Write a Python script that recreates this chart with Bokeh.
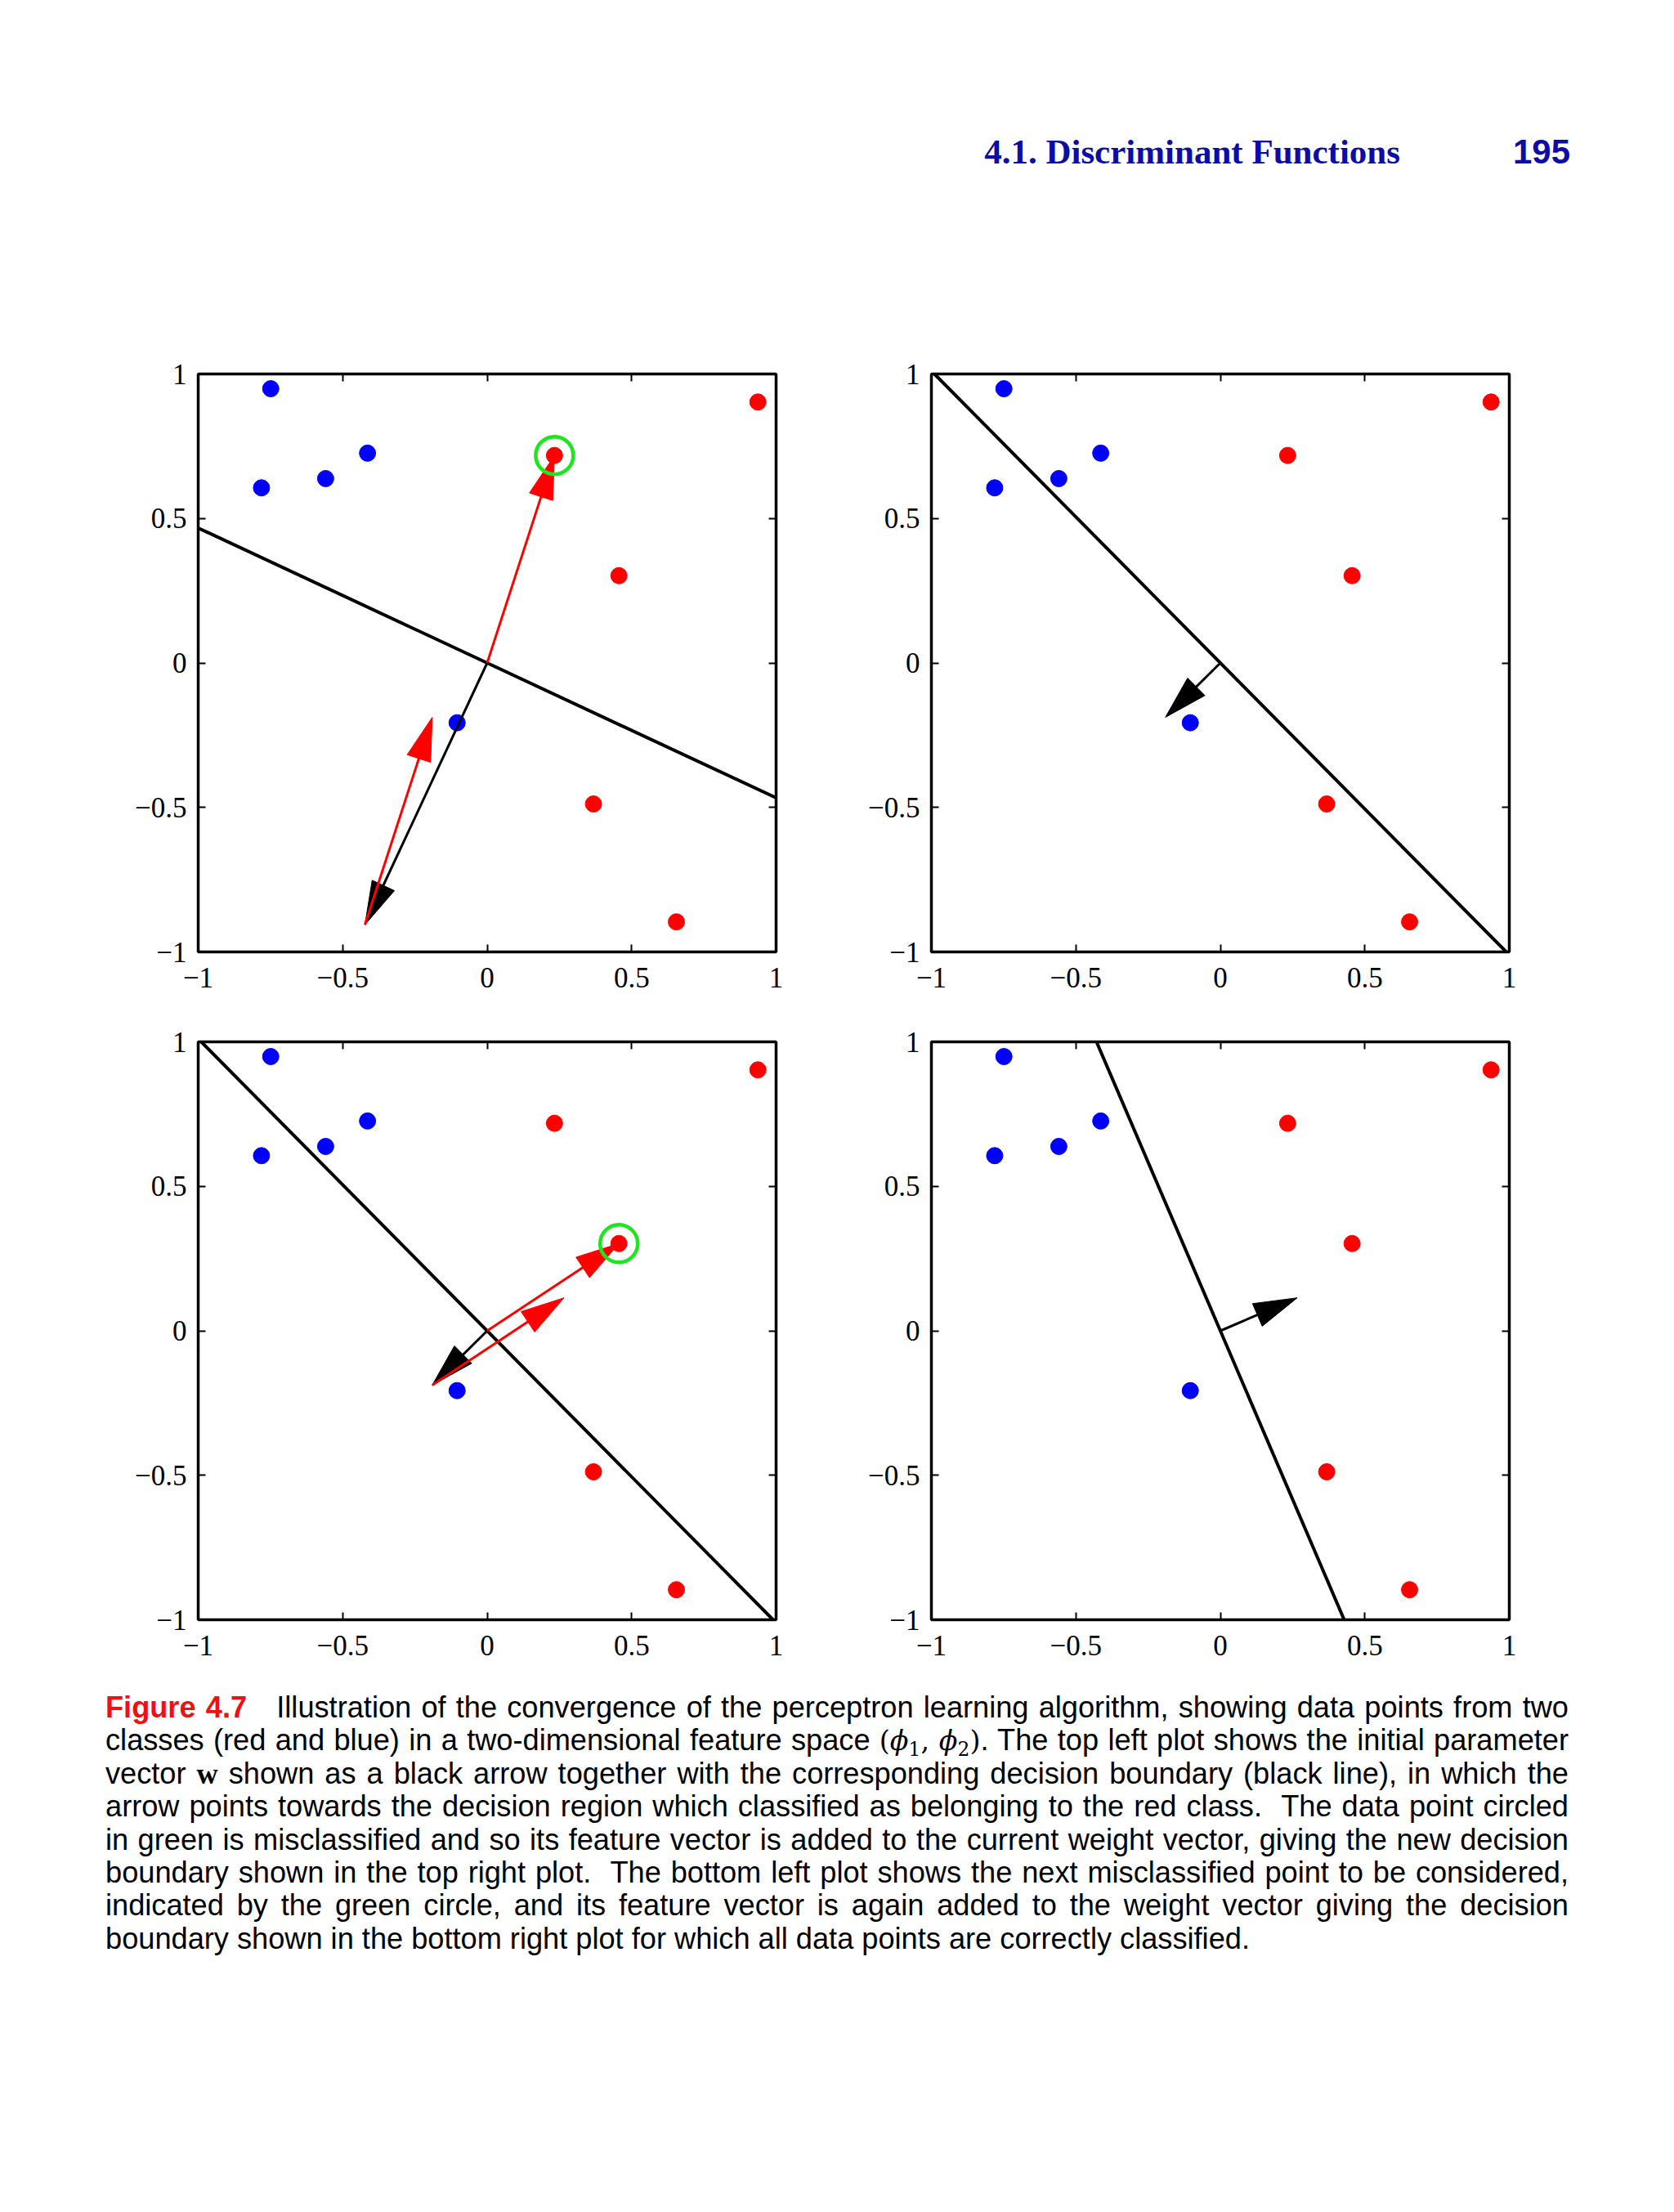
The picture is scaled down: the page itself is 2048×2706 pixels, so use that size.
import numpy as np
from bokeh.plotting import figure
from bokeh.models import Range1d, FixedTicker, LinearAxis, Div
from bokeh.layouts import column, row
from bokeh.embed import file_html
from bokeh.resources import INLINE

# ---- data ----
blue_x = [-0.749, -0.781, -0.559, -0.414, -0.104]
blue_y = [0.949, 0.606, 0.638, 0.726, -0.207]
red_x = [0.937, 0.233, 0.456, 0.368, 0.655]
red_y = [0.903, 0.718, 0.302, -0.488, -0.896]
# successive weight vectors of the perceptron
w_x = [-0.423, -0.190, 0.266]
w_y = [-0.906, -0.188, 0.114]
tick_values = [-1, -0.5, 0, 0.5, 1]
tick_labels = ["\u22121", "\u22120.5", "0", "0.5", "1"]
# panel: (weight index, circled red point index or None)
panel_weight = [0, 1, 1, 2]
panel_circled = [1, None, 2, None]

header_section = "4.1. Discriminant Functions"
header_page = "195"
caption_lines = [
    "Illustration of the convergence of the perceptron learning algorithm, showing data points from two",
    "classes (red and blue) in a two-dimensional feature space {phi}. The top left plot shows the initial parameter",
    "vector {w} shown as a black arrow together with the corresponding decision boundary (black line), in which the",
    "arrow points towards the decision region which classified as belonging to the red class.  The data point circled",
    "in green is misclassified and so its feature vector is added to the current weight vector, giving the new decision",
    "boundary shown in the top right plot.  The bottom left plot shows the next misclassified point to be considered,",
    "indicated by the green circle, and its feature vector is again added to the weight vector giving the decision",
    "boundary shown in the bottom right plot for which all data points are correctly classified.",
]
caption_label = "Figure 4.7"

FRAME = 707
BLUE = "#0000FF"
RED = "#FF0000"
GREEN = "#1EE61E"
HEAD_L = 0.15
HEAD_W = 0.085
SHIFT = 8


def style_axis(ax, show_labels, standoff=12):
    ax.ticker = FixedTicker(ticks=tick_values, minor_ticks=[])
    ax.major_label_overrides = {v: s for v, s in zip(tick_values, tick_labels)}
    ax.axis_line_color = None
    ax.major_tick_in = 9
    ax.major_tick_out = 0
    ax.major_tick_line_width = 2
    ax.major_tick_line_color = "black"
    ax.minor_tick_line_color = None
    ax.major_label_text_font = "Liberation Serif"
    ax.major_label_standoff = standoff
    if show_labels:
        ax.major_label_text_font_size = "35px"
        ax.major_label_text_color = "black"
    else:
        ax.major_label_text_font_size = "0px"
        ax.major_label_text_color = None


def draw_arrow(p, x0, y0, x1, y1, color):
    dx, dy = x1 - x0, y1 - y0
    n = np.hypot(dx, dy)
    ux, uy = dx / n, dy / n
    bx, by = x1 - HEAD_L * ux, y1 - HEAD_L * uy
    px, py = -uy, ux
    p.segment(x0=[x0], y0=[y0], x1=[x1 - 0.5 * HEAD_L * ux], y1=[y1 - 0.5 * HEAD_L * uy],
              line_color=color, line_width=3)
    p.patch([x1, bx + 0.5 * HEAD_W * px, bx - 0.5 * HEAD_W * px, x1],
            [y1, by + 0.5 * HEAD_W * py, by - 0.5 * HEAD_W * py, y1],
            fill_color=color, line_color=color, line_width=1)


def make_panel(idx, left, right, top, bottom):
    k = panel_weight[idx]
    circ = panel_circled[idx]
    p = figure(width=left + FRAME + right, height=top + FRAME + bottom,
               x_range=Range1d(-1, 1), y_range=Range1d(-1, 1),
               output_backend="svg", toolbar_location=None, tools="",
               min_border_left=left, min_border_right=right,
               min_border_top=top, min_border_bottom=bottom)
    p.grid.grid_line_color = None
    p.outline_line_color = "black"
    p.outline_line_width = 3.5
    p.outline_line_alpha = 1.0
    p.background_fill_color = "white"
    p.border_fill_color = "white"
    style_axis(p.below[0], True, 19)
    style_axis(p.left[0], True, 14)
    top_ax = LinearAxis()
    right_ax = LinearAxis()
    style_axis(top_ax, False)
    style_axis(right_ax, False)
    p.add_layout(top_ax, "above")
    p.add_layout(right_ax, "right")

    # data points
    p.scatter(blue_x, blue_y, size=20, fill_color=BLUE, line_color=BLUE)
    p.scatter(red_x, red_y, size=20, fill_color=RED, line_color=RED)

    # decision boundary perpendicular to w through origin
    d = np.array([-w_y[k], w_x[k]])
    d = d / np.max(np.abs(d))
    p.line([d[0], -d[0]], [d[1], -d[1]], line_color="black", line_width=4)

    # weight vector
    draw_arrow(p, 0.0, 0.0, w_x[k], w_y[k], "black")

    if circ is not None:
        draw_arrow(p, 0.0, 0.0, red_x[circ], red_y[circ], RED)
        draw_arrow(p, w_x[k], w_y[k], w_x[k + 1], w_y[k + 1], RED)
        p.scatter([red_x[circ]], [red_y[circ]], size=46, fill_color=None,
                  line_color=GREEN, line_width=4.5)
    return p


p_tl = make_panel(0, 234 + SHIFT, 40, 49, 70)
p_tr = make_panel(1, 150, 40, 49, 70)
p_bl = make_panel(2, 234 + SHIFT, 40, 40, 60)
p_br = make_panel(3, 150, 40, 40, 60)

BLUE_HDR = "#0C0CA6"
header_html = (
    f'<div style="position:relative;width:2030px;height:{400 + SHIFT}px;">'
    f'<div style="position:absolute;left:0;top:{150 + SHIFT}px;width:{1705 + SHIFT}px;text-align:right;'
    "font-family:'Liberation Serif';font-weight:bold;font-size:43px;line-height:56px;"
    f'color:{BLUE_HDR};white-space:nowrap;">{header_section}</div>'
    f'<div style="position:absolute;left:0;top:{150 + SHIFT}px;width:{1913 + SHIFT}px;text-align:right;'
    "font-family:'Liberation Sans';font-weight:bold;font-size:42px;line-height:56px;"
    f'color:{BLUE_HDR};white-space:nowrap;">{header_page}</div>'
    '</div>'
)
header = Div(text=header_html, width=2030, height=400 + SHIFT, margin=(0, 0, 0, 0))

sub = "font-size:0.7em;line-height:0;vertical-align:-0.28em;font-style:normal;"
phi_html = ("<span style=\"font-family:'DejaVu Serif';font-size:0.92em;\">("
            f"<i>\u03d5</i><sub style=\"{sub}\">1</sub>, "
            f"<i>\u03d5</i><sub style=\"{sub}\">2</sub>)</span>")
w_html = "<b style=\"font-family:'Liberation Serif';\">w</b>"

line_divs = []
for i, ln in enumerate(caption_lines):
    t = ln.replace("  ", "&nbsp; ").replace("{phi}", phi_html).replace("{w}", w_html)
    if i == 0:
        t = (f'<span style="color:#F01010;font-weight:bold;margin-right:24px;">{caption_label}</span> ' + t)
    if i < len(caption_lines) - 1:
        st = "text-align:justify;text-align-last:justify;word-spacing:-3px;"
    else:
        st = "text-align:left;"
    line_divs.append(f'<div style="{st}height:40.4px;white-space:nowrap;">{t}</div>')

caption_html = (
    '<div style="position:relative;width:2030px;height:400px;">'
    f'<div style="position:absolute;left:{121 + SHIFT}px;top:28px;width:1790px;'
    "font-family:'Liberation Sans';font-size:36.2px;line-height:40.4px;color:#000;\">"
    + "".join(line_divs) + "</div></div>"
)
caption = Div(text=caption_html, width=2030, height=400, margin=(0, 0, 0, 0))

layout = column(header, row(p_tl, p_tr), row(p_bl, p_br), caption)

open("out.html", "w").write(file_html(layout, INLINE))
